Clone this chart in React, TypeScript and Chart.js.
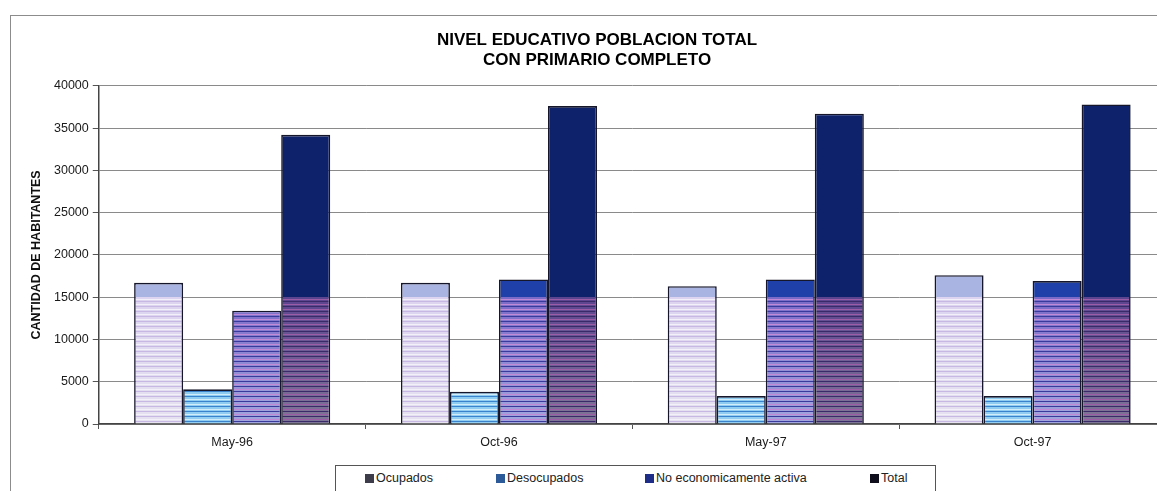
import React, { useEffect, useRef } from "react";
import { Chart, registerables } from "chart.js";
Chart.register(...registerables);

const categories = ["May-96", "Oct-96", "May-97", "Oct-97"];
const ocupados = [16700, 16700, 16300, 17600];
const desocupados = [4100, 3800, 3300, 3300];
const noActiva = [13400, 17100, 17100, 16900];
const total = [34200, 37600, 36700, 37800];
const seriesNames = ["Ocupados", "Desocupados", "No economicamente activa", "Total"];
const titleLines = ["NIVEL EDUCATIVO POBLACION TOTAL", "CON PRIMARIO COMPLETO"];
const yAxisTitle = "CANTIDAD DE HABITANTES";
const yMin = 0;
const yMax = 40000;
const yStep = 5000;

const FONT = "'Liberation Sans', Arial, Helvetica, sans-serif";

type Spec = { lowBottom: string; lowTop: string; line1: string; line2: string; upper: string; swatch: string };
const specs: Spec[] = [
  { lowBottom: "#e6e2f0", lowTop: "#dcd4f0", line1: "#c6b8e2", line2: "#f4f0fa", upper: "#aab4e2", swatch: "#3c3c4a" },
  { lowBottom: "#92cef2", lowTop: "#82c2ee", line1: "#3a82cc", line2: "#d2ecfa", upper: "#4a8ad8", swatch: "#2c5a98" },
  { lowBottom: "#a2a6de", lowTop: "#7a6ac8", line1: "#3a3a9c", line2: "#c28ad6", upper: "#1e40a8", swatch: "#1e2e88" },
  { lowBottom: "#7e7696", lowTop: "#5c4490", line1: "#3a2a6a", line2: "#9c5ca6", upper: "#0e226c", swatch: "#0e0e1c" },
];

function hex(c: string) {
  const n = parseInt(c.slice(1), 16);
  return [(n >> 16) & 255, (n >> 8) & 255, n & 255];
}
function mix(a: string, b: string, f: number) {
  const A = hex(a), B = hex(b);
  const r = A.map((v, i) => Math.round(v + (B[i] - v) * f));
  return `rgb(${r[0]},${r[1]},${r[2]})`;
}

function makeFill(chart: any, spec: Spec) {
  const { ctx, chartArea, scales } = chart;
  if (!chartArea || !scales || !scales.y) return spec.upper;
  const y0 = scales.y.getPixelForValue(0);
  const yc = scales.y.getPixelForValue(15000);
  const top = chartArea.top;
  const span = y0 - top;
  const g = ctx.createLinearGradient(0, y0, 0, top);
  const add = (px: number, c: string) => g.addColorStop(Math.min(1, Math.max(0, px / span)), c);
  const lowH = y0 - yc;
  const P = 5;
  for (let p = 0; p < lowH; p += P) {
    const f = p / lowH;
    const base = mix(spec.lowBottom, spec.lowTop, f);
    const segs: [number, string][] = [[2, base], [1, spec.line1], [1, base], [1, spec.line2]];
    let q = p;
    for (const [h, c] of segs) {
      if (q >= lowH) break;
      add(q, c);
      add(Math.min(q + h, lowH), c);
      q += h;
    }
  }
  add(lowH, spec.upper);
  add(span, spec.upper);
  return g;
}

export default function App() {
  const ref = useRef<HTMLCanvasElement>(null);
  useEffect(() => {
    const canvas = ref.current!;
    const seriesData = [ocupados, desocupados, noActiva, total];
    const chart = new Chart(canvas, {
      type: "bar",
      data: {
        labels: categories,
        datasets: seriesData.map((d, i) => ({
          label: seriesNames[i],
          data: d,
          backgroundColor: (c: any) => makeFill(c.chart, specs[i]),
          borderColor: "#16162a",
          borderWidth: 1.6,
          categoryPercentage: 0.735,
          barPercentage: 1,
        })),
      },
      options: {
        responsive: false,
        animation: false,
        devicePixelRatio: 1,
        layout: { padding: { left: 28, right: 34, top: 22, bottom: 35 } },
        plugins: {
          legend: { display: false },
          tooltip: { enabled: false },
          title: {
            display: true,
            text: titleLines,
            color: "#000",
            font: { family: FONT, size: 17, weight: "bold", lineHeight: 1.2 },
            padding: { top: 8, bottom: 15 },
          },
        },
        scales: {
          x: {
            grid: { display: true, drawOnChartArea: false, drawTicks: true, tickLength: 5, color: "#555", offset: true },
            border: { display: true, color: "#444", width: 1.5 },
            ticks: { color: "#1a1a1a", font: { family: FONT, size: 12.5 }, padding: 6, maxRotation: 0 },
          },
          y: {
            min: yMin,
            max: yMax,
            ticks: {
              stepSize: yStep,
              color: "#1a1a1a",
              font: { family: FONT, size: 12.5 },
              padding: 4,
              callback: (v: any) => String(v),
            },
            grid: { color: "#8a8a8a", lineWidth: 1, tickLength: 6, tickColor: "#555" },
            border: { display: true, color: "#444", width: 1.5 },
            title: {
              display: true,
              text: yAxisTitle,
              color: "#111",
              font: { family: FONT, size: 12.5, weight: "bold", lineHeight: 1.2 },
              padding: { top: 1.5, bottom: 5.5 },
            },
          },
        },
      },
    });
    return () => chart.destroy();
  }, []);

  const legendItems = [
    { x: 365, name: seriesNames[0], c: specs[0].swatch },
    { x: 496, name: seriesNames[1], c: specs[1].swatch },
    { x: 645, name: seriesNames[2], c: specs[2].swatch },
    { x: 870, name: seriesNames[3], c: specs[3].swatch },
  ];

  return (
    <div style={{ position: "fixed", left: 0, top: 0, width: 1157, height: 491, overflow: "hidden", background: "#fff" }}>
      <div style={{ position: "absolute", left: 10, top: 15, width: 1200, height: 600, border: "1.5px solid #8c8c8c", boxSizing: "border-box" }} />
      <canvas ref={ref} width={1200} height={491} style={{ position: "absolute", left: 0, top: 0, width: 1200, height: 491 }} />
      <div style={{ position: "absolute", left: 335, top: 465, width: 601, height: 40, border: "1.5px solid #555", boxSizing: "border-box", background: "#fff" }} />
      {legendItems.map((it) => (
        <div key={it.name} style={{ position: "absolute", left: it.x, top: 470, height: 16, display: "flex", alignItems: "center", fontFamily: FONT, fontSize: 12.5, color: "#222", whiteSpace: "nowrap" }}>
          <span style={{ display: "inline-block", width: 9, height: 9, background: it.c, marginRight: 2 }} />
          <span>{it.name}</span>
        </div>
      ))}
    </div>
  );
}
